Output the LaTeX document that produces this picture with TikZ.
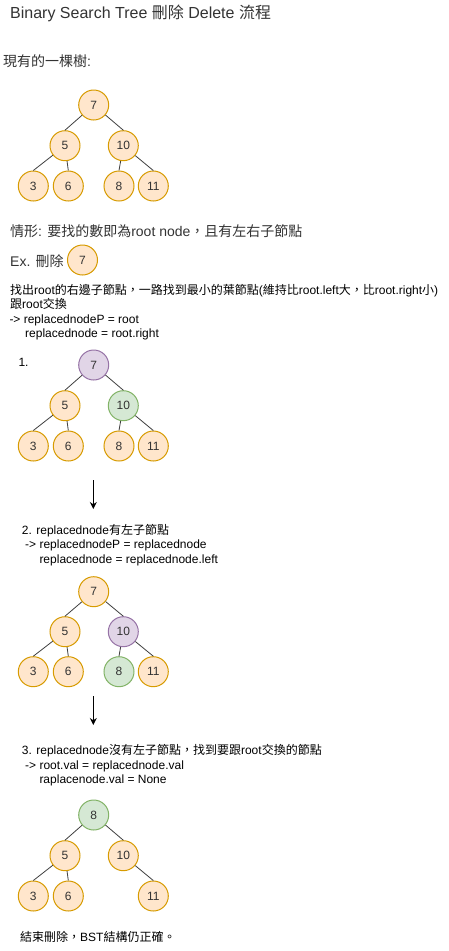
\documentclass[tikz,border=0pt]{standalone}
\usepackage{fontspec}
\setmainfont{Liberation Sans}
\newfontfamily\cjk{Noto Sans CJK TC}
\usetikzlibrary{arrows.meta}
\definecolor{orF}{HTML}{FFE6CC}\definecolor{orD}{HTML}{D79B00}
\definecolor{puF}{HTML}{E1D5E7}\definecolor{puD}{HTML}{9673A6}
\definecolor{grF}{HTML}{D5E8D4}\definecolor{grD}{HTML}{82B366}
\definecolor{ttl}{HTML}{333333}
\newcommand\zh[1]{{\cjk #1}}
\begin{document}
\begin{tikzpicture}[x=1pt,y=-1pt,
 bst/.style={circle,minimum size=30pt,inner sep=0pt,line width=1pt,text=ttl,font=\fontsize{12}{14}\selectfont},
 org/.style={bst,draw=orD,fill=orF},
 pur/.style={bst,draw=puD,fill=puF},
 grn/.style={bst,draw=grD,fill=grF},
 edge/.style={draw=black!75,line width=0.8pt},
 txt/.style={anchor=base west,inner sep=0pt,font=\fontsize{12}{12}\selectfont},
 big/.style={anchor=base west,inner sep=0pt,font=\fontsize{14}{14}\selectfont},
 flow/.style={-{Stealth[length=7pt,width=7pt]},line width=1pt}
]
\useasboundingbox[fill=white] (0,0) rectangle (449,951);

% texts
\node[anchor=base west,inner sep=0pt,font=\fontsize{16}{16}\selectfont,text=ttl] (title) at (10,18.9) {Binary Search Tree \zh{刪除} Delete \zh{流程}};
\node[big,text=ttl] (t1) at (3,66.2) {\zh{現有的一棵樹}:};
\node[big,text=ttl] (t2) at (10,236.2) {\zh{情形}: \zh{要找的數即為}root node\zh{，且有左右子節點}};
\node[big,text=ttl] (t3) at (10,266.9) {Ex. \zh{刪除}};
\node[org] (ex7) at (82.5,260) {7};
\node[txt] (t4a) at (10,294.4) {\zh{找出}root\zh{的右邊子節點，一路找到最小的葉節點}(\zh{維持比}root.left\zh{大，比}root.right\zh{小})};
\node[txt] (t4b) at (10,308.8) {\zh{跟}root\zh{交換}};
\node[txt] (t4c) at (9.3,323.2) {-> replacednodeP = root};
\node[txt] (t4d) at (25,337.6) {replacednode = root.right};
\node[txt] (s1) at (18.3,366) {1.};
\node[txt] (s2a) at (21.7,534.4) {2. replacednode\zh{有左子節點}};
\node[txt] (s2b) at (25,548.8) {-> replacednodeP = replacednode};
\node[txt] (s2c) at (39.3,563.2) {replacednode = replacednode.left};
\node[txt] (s3a) at (21.7,754.9) {3. replacednode\zh{沒有左子節點，找到要跟}root\zh{交換的節點}};
\node[txt] (s3b) at (25,769.4) {-> root.val = replacednode.val};
\node[txt] (s3c) at (39.3,783.9) {raplacenode.val = None};
\node[txt] (end) at (20,941.1) {\zh{結束刪除，}BST\zh{結構仍正確。}};

% tree 1
\node[org] (a7) at (93.7,105) {7};
\node[org] (a5) at (65,145.7) {5};
\node[org] (a10) at (123.3,145.7) {10};
\node[org] (a3) at (33.3,186) {3};
\node[org] (a6) at (68.3,186) {6};
\node[org] (a8) at (119,186) {8};
\node[org] (a11) at (153.3,186) {11};
\draw[edge] (a7) -- (a5.north);
\draw[edge] (a7) -- (a10.north);
\draw[edge] (a5) -- (a3.north);
\draw[edge] (a5) -- (a6.north);
\draw[edge] (a10) -- (a8.north);
\draw[edge] (a10) -- (a11.north);

% tree 2
\node[pur] (b7) at (93.7,365) {7};
\node[org] (b5) at (65,405.7) {5};
\node[grn] (b10) at (123.3,405.7) {10};
\node[org] (b3) at (33.3,446) {3};
\node[org] (b6) at (68.3,446) {6};
\node[org] (b8) at (119,446) {8};
\node[org] (b11) at (153.3,446) {11};
\draw[edge] (b7) -- (b5.north);
\draw[edge] (b7) -- (b10.north);
\draw[edge] (b5) -- (b3.north);
\draw[edge] (b5) -- (b6.north);
\draw[edge] (b10) -- (b8.north);
\draw[edge] (b10) -- (b11.north);

% tree 3
\node[org] (c7) at (93.7,591.7) {7};
\node[org] (c5) at (65,631.7) {5};
\node[pur] (c10) at (123.3,631.7) {10};
\node[org] (c3) at (33.3,671.7) {3};
\node[org] (c6) at (68.3,671.7) {6};
\node[grn] (c8) at (119,671.7) {8};
\node[org] (c11) at (153.3,671.7) {11};
\draw[edge] (c7) -- (c5.north);
\draw[edge] (c7) -- (c10.north);
\draw[edge] (c5) -- (c3.north);
\draw[edge] (c5) -- (c6.north);
\draw[edge] (c10) -- (c8.north);
\draw[edge] (c10) -- (c11.north);

% tree 4
\node[grn] (d8) at (93.7,815) {8};
\node[org] (d5) at (65,855.7) {5};
\node[org] (d10) at (123.3,855.7) {10};
\node[org] (d3) at (33.3,896) {3};
\node[org] (d6) at (68.3,896) {6};
\node[org] (d11) at (153.3,896) {11};
\draw[edge] (d8) -- (d5.north);
\draw[edge] (d8) -- (d10.north);
\draw[edge] (d5) -- (d3.north);
\draw[edge] (d5) -- (d6.north);
\draw[edge] (d10) -- (d11.north);

% flow arrows
\coordinate (f1s) at (93.3,480);
\coordinate (f1e) at (93.3,509);
\coordinate (f2s) at (93.3,696);
\coordinate (f2e) at (93.3,725);
\draw[flow] (f1s) -- (f1e);
\draw[flow] (f2s) -- (f2e);
\end{tikzpicture}
\end{document}
